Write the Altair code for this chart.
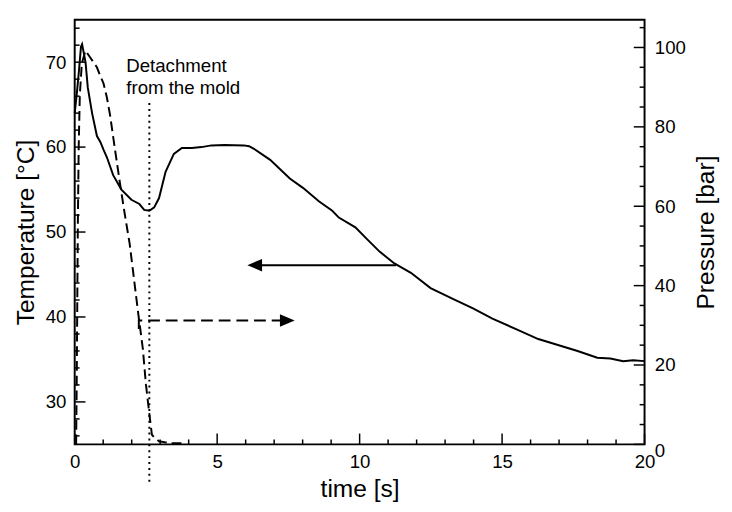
import altair as alt
import pandas as pd

FONT = "Liberation Sans"

# ---- data ----
temp_t = [0.0, 0.08, 0.15, 0.22, 0.26, 0.38, 0.46, 0.61, 0.78, 0.90, 1.01, 1.13, 1.35,
          1.64, 1.99, 2.27, 2.44, 2.62, 2.79, 2.96, 3.19, 3.48, 3.76, 4.11, 4.45, 4.80,
          5.26, 5.94, 6.12, 6.29, 6.86, 7.55, 8.01, 8.58, 9.04, 9.27, 9.85, 10.25, 10.70,
          11.22, 11.80, 12.49, 13.29, 13.98, 14.66, 15.47, 16.27, 16.96, 17.65, 18.34,
          18.80, 19.25, 19.60, 20.0]
temp_T = [64.0, 66.5, 69.0, 71.8, 72.1, 70.0, 67.0, 64.0, 61.3, 60.6, 59.7, 58.8, 56.7,
          55.0, 53.8, 53.3, 52.6, 52.5, 52.9, 54.0, 57.1, 59.2, 59.9, 59.9, 60.0, 60.2,
          60.25, 60.2, 60.1, 59.8, 58.5, 56.3, 55.2, 53.6, 52.5, 51.7, 50.55, 49.2, 47.7,
          46.3, 45.2, 43.4, 42.1, 41.0, 39.8, 38.6, 37.4, 36.7, 36.0, 35.2,
          35.1, 34.8, 34.9, 34.8]

pres_t = [0.05, 0.07, 0.09, 0.11, 0.14, 0.18, 0.25, 0.38, 0.55, 0.78, 0.90, 1.01, 1.13,
          1.24, 1.33, 1.41, 1.58, 1.76, 1.93, 2.05, 2.21, 2.39, 2.50, 2.62, 2.71, 2.85,
          2.96, 3.19, 3.40, 3.76]
pres_P = [0.0, 15.0, 35.0, 55.0, 75.0, 88.0, 96.0, 99.2, 97.4, 95.0, 92.8, 91.0, 87.4,
          83.0, 78.5, 74.5, 66.2, 57.9, 50.5, 43.5, 34.1, 24.2, 15.1, 7.7, 2.4, 1.4,
          0.8, 0.5, 0.3, 0.3]

x_major = [0, 5, 10, 15, 20]
x_minor = [1, 2, 3, 4, 6, 7, 8, 9, 11, 12, 13, 14, 16, 17, 18, 19]
T_major = [30, 40, 50, 60, 70]
T_minor = [26, 28, 32, 34, 36, 38, 42, 44, 46, 48, 52, 54, 56, 58, 62, 64, 66, 68, 72, 74]
P_major = [0, 20, 40, 60, 80, 100]
P_minor = [5, 10, 15, 25, 30, 35, 45, 50, 55, 65, 70, 75, 85, 90, 95, 105]

detach_t = 2.62
ann_lines = ["Detachment", "from the mold"]
ann_t = [1.81, 1.81]
ann_T = [68.9, 66.3]

arrowT_t = [6.3]
arrowT_t2 = [11.28]
arrowT_T = [46.1]
headT_t = [6.06]

arrowP_t = [2.25, 2.25, 7.4]
arrowP_P = [29.1, 31.2, 31.2]
headP_t = [7.72]
headP_P = [31.2]

# ---- scales ----
W, H = 581, 433
xs = alt.Scale(domain=[0, 20], nice=False, zero=False)
Ts = alt.Scale(domain=[25, 75], nice=False, zero=False)
Ps = alt.Scale(domain=[0, 107], nice=False, zero=False)

df_T = pd.DataFrame({"t": temp_t, "T": temp_T})
df_P = pd.DataFrame({"t": pres_t, "P": pres_P})

x_axis = alt.Axis(values=x_major, labelFlush=False, labelPadding=9, title="time [s]",
                  titlePadding=5)
T_axis = alt.Axis(values=T_major, orient="left", labelPadding=9, title="Temperature [°C]",
                  titlePadding=7)
P_axis = alt.Axis(values=P_major, orient="right", labelPadding=10, title="Pressure [bar]",
                  titlePadding=9, titleAngle=270, titleBaseline="top",
                  labelOffset=alt.expr("datum.value === 0 ? 6 : 0"))

solid = alt.Chart(df_T).mark_line(color="black", strokeWidth=2).encode(
    x=alt.X("t:Q", scale=xs, axis=x_axis),
    y=alt.Y("T:Q", scale=Ts, axis=T_axis),
)

def rules_y(vals, field, scale, x0, x1):
    return alt.Chart(pd.DataFrame({field: vals})).mark_rule(color="black", strokeWidth=1.5).encode(
        y=alt.Y(f"{field}:Q", scale=scale), x=alt.value(x0), x2=alt.value(x1))

def rules_x(vals, length):
    return alt.Chart(pd.DataFrame({"t": vals})).mark_rule(color="black", strokeWidth=1.5).encode(
        x=alt.X("t:Q", scale=xs), y=alt.value(H), y2=alt.value(H - length))

lt_major = rules_y(T_major, "T", Ts, 0, 11)
lt_minor = rules_y(T_minor, "T", Ts, 0, 5)
bt_major = rules_x(x_major, 11)
bt_minor = rules_x(x_minor, 5)

dotted = alt.Chart(pd.DataFrame({"t": [detach_t]})).mark_rule(
    color="black", strokeWidth=2, strokeDash=[2, 4]).encode(
    x=alt.X("t:Q", scale=xs), y=alt.value(85), y2=alt.value(472))

ann = alt.Chart(pd.DataFrame({"t": ann_t, "T": ann_T, "txt": ann_lines})).mark_text(
    align="left", baseline="alphabetic", font=FONT, fontSize=19, color="black").encode(
    x=alt.X("t:Q", scale=xs), y=alt.Y("T:Q", scale=Ts), text="txt:N")

arrowT = alt.Chart(pd.DataFrame({"t": arrowT_t, "t2": arrowT_t2, "T": arrowT_T})).mark_rule(
    color="black", strokeWidth=2).encode(
    x=alt.X("t:Q", scale=xs), x2="t2:Q", y=alt.Y("T:Q", scale=Ts))
headT = alt.Chart(pd.DataFrame({"t": headT_t, "T": arrowT_T})).mark_point(
    shape="M0,0L2,-0.85L2,0.85Z", filled=True, color="black", opacity=1, size=225).encode(
    x=alt.X("t:Q", scale=xs), y=alt.Y("T:Q", scale=Ts))

dashed = alt.Chart(df_P).mark_line(color="black", strokeWidth=2, strokeDash=[10, 5]).encode(
    x=alt.X("t:Q", scale=xs),
    y=alt.Y("P:Q", scale=Ps, axis=P_axis),
)
rt_major = rules_y(P_major, "P", Ps, W, W - 11)
rt_minor = rules_y(P_minor, "P", Ps, W, W - 5)

arrowP = alt.Chart(pd.DataFrame({"t": arrowP_t, "P": arrowP_P, "i": [0, 1, 2]})).mark_line(
    color="black", strokeWidth=2, strokeDash=[12, 6]).encode(
    x=alt.X("t:Q", scale=xs), y=alt.Y("P:Q", scale=Ps), order="i:Q")
headP = alt.Chart(pd.DataFrame({"t": headP_t, "P": headP_P})).mark_point(
    shape="M0,0L-2,-0.85L-2,0.85Z", filled=True, color="black", opacity=1, size=225).encode(
    x=alt.X("t:Q", scale=xs), y=alt.Y("P:Q", scale=Ps))

temp_group = alt.layer(solid, lt_major, lt_minor, bt_major, bt_minor, dotted, arrowT, headT, ann)
pres_group = alt.layer(dashed, rt_major, rt_minor, arrowP, headP)

chart = alt.layer(temp_group, pres_group).resolve_scale(y="independent").properties(
    width=W, height=H, padding={"left": 5, "top": 7, "right": 5, "bottom": 5}
).configure_view(stroke="black", strokeWidth=2).configure_axis(
    labelFont=FONT, titleFont=FONT, labelColor="black", titleColor="black",
    labelFontSize=19, titleFontSize=25, titleFontWeight="normal",
    grid=False, ticks=False, domain=False,
)

chart.save("out.html", embed_options={"renderer": "svg", "actions": False})
